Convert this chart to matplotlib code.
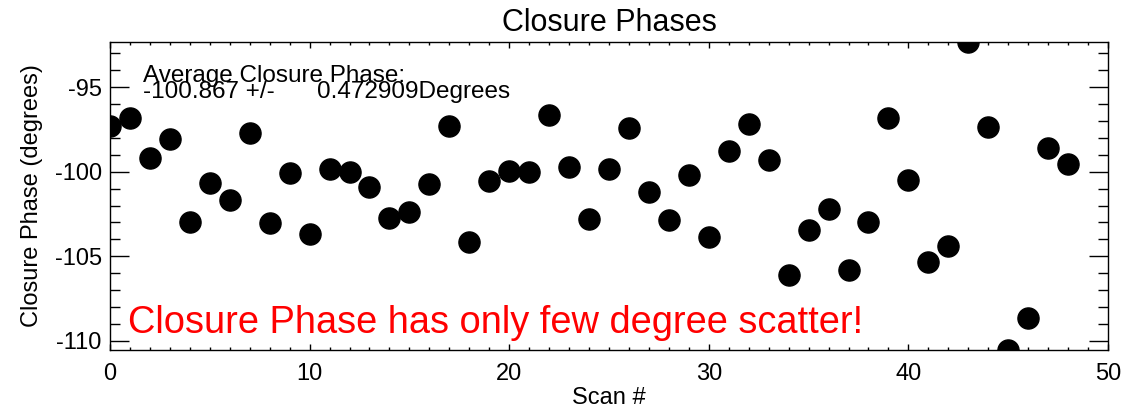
import numpy as np
import matplotlib
matplotlib.use("Agg")
import matplotlib.pyplot as plt
from matplotlib.ticker import MultipleLocator

plt.rcParams['font.family'] = ['Liberation Sans', 'DejaVu Sans']
plt.rcParams['axes.unicode_minus'] = False

# closure phase per scan
scan = np.arange(49)
phase = [-97.29, -96.84, -99.21, -98.08, -103.00, -100.69, -101.68, -97.73,
         -103.06, -100.10, -103.66, -99.84, -100.04, -100.93, -102.75, -102.37,
         -100.75, -97.27, -104.15, -100.55, -99.96, -100.00, -96.64, -99.70,
         -102.77, -99.86, -97.43, -101.19, -102.87, -100.20, -103.89, -98.78,
         -97.19, -99.31, -106.13, -103.42, -102.23, -105.79, -102.97, -96.80,
         -100.50, -105.34, -104.39, -92.32, -97.37, -110.55, -108.63, -98.62,
         -99.56]

avg_label = "Average Closure Phase:"
avg_value = "-100.867 +/-"
avg_err = "0.472909Degrees"
note = "Closure Phase has only few degree scatter!"

fig = plt.figure(figsize=(11.44, 4.12), dpi=100)
ax = fig.add_axes([110/1144, 1 - 350/412, 998/1144, 308/412])

ax.plot(scan, phase, 'o', ms=15.2, color='black')

ax.set_xlim(0, 50)
ax.set_ylim(min(phase), max(phase))

ax.xaxis.set_major_locator(MultipleLocator(10))
ax.xaxis.set_minor_locator(MultipleLocator(1))
ax.yaxis.set_major_locator(MultipleLocator(5))
ax.yaxis.set_minor_locator(MultipleLocator(1))
ax.tick_params(axis='both', which='both', direction='in', top=True, right=True,
               labelsize=17, width=1)
ax.tick_params(axis='x', which='major', length=4.4, pad=9)
ax.tick_params(axis='x', which='minor', length=2.2)
ax.tick_params(axis='y', which='major', length=14, pad=6)
ax.tick_params(axis='y', which='minor', length=7.2)
for s in ax.spines.values():
    s.set_linewidth(1)

ax.set_title("Closure Phases", fontsize=22, pad=8)
ax.set_xlabel("Scan #", fontsize=17, labelpad=2)
ax.set_ylabel("Closure Phase (degrees)", fontsize=17, labelpad=8)

ax.text(1.63, -94.67, avg_label, fontsize=17.5, va='baseline')
ax.text(1.63, -95.65, avg_value, fontsize=17.5, va='baseline')
ax.text(10.35, -95.65, avg_err, fontsize=17.5, va='baseline')
ax.text(0.9, -109.55, note, fontsize=27.4, color='red', va='baseline')

fig.savefig("out.png", dpi=100)
